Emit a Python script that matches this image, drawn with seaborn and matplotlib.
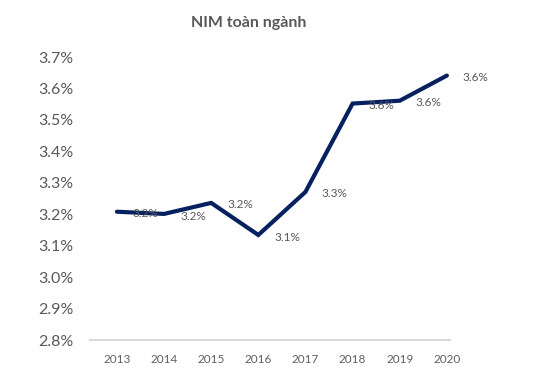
import matplotlib
matplotlib.use("Agg")
import matplotlib.pyplot as plt
import numpy as np
import pandas as pd
import seaborn as sns

# NIM values (%)
years = ["2013", "2014", "2015", "2016", "2017", "2018", "2019", "2020"]
nim = [3.208, 3.201, 3.236, 3.134, 3.271, 3.552, 3.561, 3.641]
y_ticks = [2.8, 2.9, 3.0, 3.1, 3.2, 3.3, 3.4, 3.5, 3.6, 3.7]

sns.set_style("white")
plt.rcParams["font.family"] = ["Lato", "DejaVu Sans"]

df = pd.DataFrame({"pos": np.arange(len(years)), "nim": nim})

fig = plt.figure(figsize=(5.48, 3.76), dpi=100)
ax = fig.add_axes([0.164, 0.0957, 0.657, 0.7527])

sns.lineplot(data=df, x="pos", y="nim", ax=ax, color="#06215f", linewidth=3.0,
             solid_capstyle="round", solid_joinstyle="miter", clip_on=False)

# data labels to the right of each point
for x, v in zip(df["pos"], df["nim"]):
    ax.annotate(f"{v:.1f}%", (x, v), xytext=(11.5, -1.5), textcoords="offset points",
                ha="left", va="center", fontsize=8.5, color="#595959")

ax.set_xlim(-0.573, 7.064)
ax.set_ylim(2.8, 3.7)
ax.set_xticks(df["pos"])
ax.set_xticklabels(years)
ax.set_yticks(y_ticks)
ax.set_yticklabels([f"{t:.1f}%" for t in y_ticks])
ax.tick_params(axis="x", length=0, pad=10, labelsize=8.5, labelcolor="#606060")
ax.tick_params(axis="y", length=0, pad=12, labelsize=11.5, labelcolor="#595959")
ax.set_xlabel("")
ax.set_ylabel("")

for side in ["top", "right", "left"]:
    ax.spines[side].set_visible(False)
ax.spines["bottom"].set_color("#d9d9d9")
ax.spines["bottom"].set_linewidth(1.5)
ax.grid(False)

fig.text(0.453, 0.938, "NIM toàn ngành", ha="center", va="center",
         fontsize=11.5, fontweight="bold", color="#595959")

fig.savefig("out.png", dpi=100)
